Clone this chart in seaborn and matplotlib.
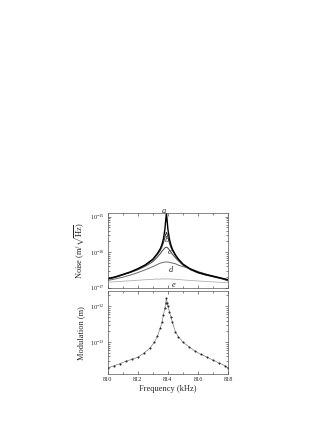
import numpy as np
import pandas as pd
import matplotlib
matplotlib.use("Agg")
import matplotlib.pyplot as plt
import matplotlib.ticker as mticker
import seaborn as sns

# noise spectra (m/sqrt(Hz)) for curves a..e
freq_noise = [810, 810.5, 811, 811.5, 812, 812.5, 813, 813.3, 813.5, 813.6, 813.7, 813.8, 813.85, 813.9,
              813.95, 814.0, 814.1, 814.2, 814.3, 814.5, 814.7, 815, 815.5, 816, 816.5, 817, 817.5, 818]
noise_a = [1.78e-17, 2.00e-17, 2.34e-17, 2.75e-17, 3.39e-17, 4.37e-17, 6.31e-17, 9.12e-17, 1.26e-16, 1.62e-16,
           2.34e-16, 4.37e-16, 7.59e-16, 1.26e-15, 7.59e-16, 4.37e-16, 2.34e-16, 1.58e-16, 1.20e-16, 8.32e-17,
           6.31e-17, 4.57e-17, 3.31e-17, 2.69e-17, 2.34e-17, 2.09e-17, 1.86e-17, 1.66e-17]
noise_b = [1.74e-17, 1.95e-17, 2.29e-17, 2.69e-17, 3.31e-17, 4.27e-17, 6.03e-17, 8.51e-17, 1.12e-16, 1.38e-16,
           1.82e-16, 2.63e-16, 3.16e-16, 3.63e-16, 3.16e-16, 2.63e-16, 1.78e-16, 1.35e-16, 1.10e-16, 7.94e-17,
           6.17e-17, 4.47e-17, 3.24e-17, 2.63e-17, 2.29e-17, 2.04e-17, 1.82e-17, 1.62e-17]
noise_c = [1.70e-17, 1.91e-17, 2.24e-17, 2.63e-17, 3.16e-17, 3.98e-17, 5.37e-17, 7.24e-17, 9.12e-17, 1.05e-16,
           1.17e-16, 1.32e-16, 1.35e-16, 1.38e-16, 1.35e-16, 1.29e-16, 1.15e-16, 1.00e-16, 8.71e-17, 6.92e-17,
           5.62e-17, 4.27e-17, 3.16e-17, 2.57e-17, 2.24e-17, 2.00e-17, 1.78e-17, 1.58e-17]
noise_d = [1.58e-17, 1.74e-17, 1.95e-17, 2.24e-17, 2.63e-17, 3.16e-17, 3.89e-17, 4.47e-17, 4.90e-17, 5.01e-17,
           5.13e-17, 5.25e-17, 5.25e-17, 5.25e-17, 5.25e-17, 5.25e-17, 5.13e-17, 5.01e-17, 4.90e-17, 4.68e-17,
           4.27e-17, 3.89e-17, 3.39e-17, 2.82e-17, 2.40e-17, 2.09e-17, 1.86e-17, 1.51e-17]
noise_e = [1.41e-17, 1.46e-17, 1.50e-17, 1.55e-17, 1.60e-17, 1.66e-17, 1.70e-17, 1.74e-17, 1.71e-17, 1.77e-17,
           1.73e-17, 1.76e-17, 1.72e-17, 1.75e-17, 1.78e-17, 1.73e-17, 1.76e-17, 1.72e-17, 1.74e-17, 1.70e-17,
           1.68e-17, 1.64e-17, 1.58e-17, 1.53e-17, 1.48e-17, 1.44e-17, 1.40e-17, 1.36e-17]
curve_names = ["a", "b", "c", "d", "e"]

# modulation response (m)
freq_mod = [810, 810.4, 810.8, 811.2, 811.6, 812, 812.4, 812.8, 813.1, 813.3, 813.5, 813.6, 813.7, 813.8, 813.85,
            813.9, 813.95, 814.0, 814.1, 814.2, 814.3, 814.5, 814.7, 815, 815.4, 815.8, 816.2, 816.6, 817, 817.4,
            817.8, 818]
modulation = [1.91e-14, 2.19e-14, 2.51e-14, 2.95e-14, 3.31e-14, 3.80e-14, 4.90e-14, 6.76e-14, 1.00e-13, 1.45e-13,
              2.51e-13, 3.55e-13, 5.62e-13, 8.91e-13, 1.20e-12, 1.66e-12, 1.26e-12, 1.00e-12, 7.08e-13, 5.01e-13,
              3.55e-13, 1.91e-13, 1.41e-13, 1.00e-13, 7.41e-14, 5.62e-14, 4.57e-14, 3.80e-14, 3.16e-14, 2.63e-14,
              2.19e-14, 1.91e-14]

sns.set_theme(style="ticks")
plt.rcParams["font.family"] = ["Liberation Serif", "DejaVu Serif"]
plt.rcParams["mathtext.fontset"] = "stix"
plt.rcParams["axes.linewidth"] = 0.5
plt.rcParams["xtick.direction"] = "in"
plt.rcParams["ytick.direction"] = "in"

noise = pd.DataFrame({"freq": freq_noise * 5,
                      "value": noise_a + noise_b + noise_c + noise_d + noise_e,
                      "curve": [n for n in curve_names for _ in freq_noise]})
mod = pd.DataFrame({"freq": freq_mod, "value": modulation})

fig = plt.figure(figsize=(3.27, 4.23), dpi=100, facecolor="white")
ax1 = fig.add_axes([0.329, 0.3203, 0.369, 0.177])
ax2 = fig.add_axes([0.329, 0.1158, 0.369, 0.1955])

colors = {"a": "#000000", "b": "#333333", "c": "#444444", "d": "#6a6a6a", "e": "#b0b0b0"}
widths = {"a": 1.0, "b": 0.7, "c": 0.7, "d": 0.7, "e": 0.6}
for name in curve_names[::-1]:
    sns.lineplot(data=noise[noise.curve == name], x="freq", y="value", color=colors[name],
                 lw=widths[name], ax=ax1, legend=False)

sns.lineplot(data=mod, x="freq", y="value", color="#808080", lw=0.5, marker="o", markersize=1.5,
             markerfacecolor="#2a2a2a", markeredgewidth=0, ax=ax2, legend=False)

label_pos = {"a": (813.75, 1.45e-15), "b": (813.95, 2.2e-16), "c": (814.1, 1.02e-16),
             "d": (814.2, 3.1e-17), "e": (814.35, 1.15e-17)}
for name, (x, y) in label_pos.items():
    ax1.text(x, y, name, fontsize=6, style="italic", ha="center", va="center", clip_on=False)

for ax in (ax1, ax2):
    ax.set_yscale("log")
    ax.set_xlim(810, 818)
    ax.xaxis.set_major_locator(mticker.MultipleLocator(2))
    ax.xaxis.set_minor_locator(mticker.MultipleLocator(1))
    ax.tick_params(which="both", top=True, right=True, labelsize=4.5, width=0.4, pad=2)
    ax.tick_params(which="major", length=2)
    ax.tick_params(which="minor", length=1.2)
    for s in ax.spines.values():
        s.set_color("#555555")

ax1.set_ylim(1e-17, 1.3e-15)
ax1.set_yticks([1e-17, 1e-16, 1e-15])
ax1.set_xticklabels([])
ax1.set_xlabel("")
ax1.set_ylabel("Noise (m/$\\sqrt{\\mathrm{Hz}}$)", fontsize=6, labelpad=3)

ax2.set_ylim(1.3e-14, 2.6e-12)
ax2.set_yticks([1e-13, 1e-12])
ax2.set_xticks([810, 812, 814, 816, 818])
ax2.set_xlabel("Frequency (kHz)", fontsize=6, labelpad=2)
ax2.set_ylabel("Modulation (m)", fontsize=6, labelpad=3)

fig.savefig("out.png", dpi=100, facecolor="white")
